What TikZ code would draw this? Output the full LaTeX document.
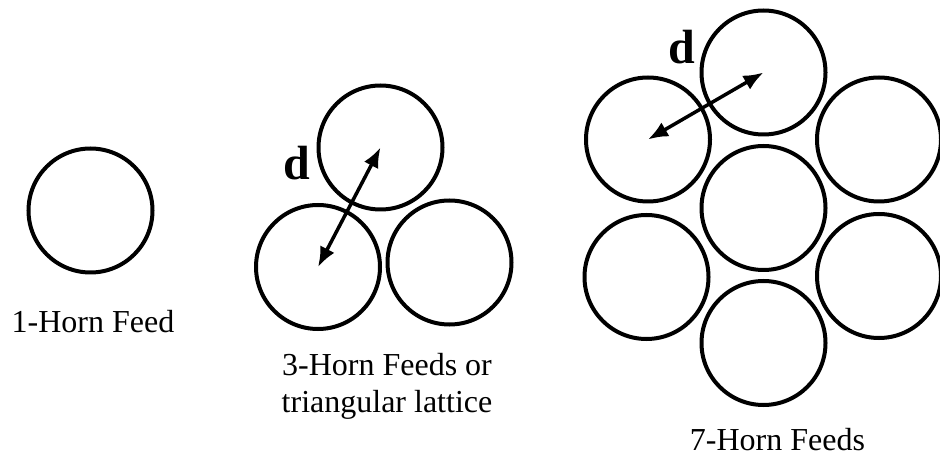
\documentclass[tikz,border=0pt]{standalone}
\usepackage{fontspec}
\setmainfont{Liberation Serif}
\usetikzlibrary{arrows.meta}
\begin{document}
\begin{tikzpicture}[x=1pt,y=-1pt,
  horn/.style={circle,draw=black,line width=4pt,minimum size=124pt,inner sep=0pt},
  lbl/.style={font=\fontsize{32}{37}\selectfont,anchor=base,inner sep=0pt},
  dlbl/.style={font=\fontsize{48}{48}\selectfont\bfseries,inner sep=0pt},
  dtip/.tip={Latex[length=20pt,width=16pt]},
  darrow/.style={line width=3.5pt,dtip-dtip}]
\useasboundingbox (0,0) rectangle (940,462);
% 1-horn
\node[horn] (h1) at (90.5,210.5) {};
\node[lbl] (l1) at (93,333) {1-Horn Feed};
% 3-horn
\node[horn] (t3) at (380.5,147.5) {};
\node[horn] (bl3) at (318,267) {};
\node[horn] (br3) at (449.5,262.5) {};
\draw[darrow] (bl3.center) -- (t3.center);
\node[dlbl] (d3) at (297,163.5) {d};
\node[lbl] (l3a) at (387,375) {3-Horn Feeds or};
\node[lbl] (l3b) at (387,412) {triangular lattice};
% 7-horn
\node[horn] (c7) at (763.5,208) {};
\node[horn] (t7) at (763.5,72.5) {};
\node[horn] (ul7) at (648,139.5) {};
\node[horn] (ur7) at (879,139.5) {};
\node[horn] (ll7) at (646.5,277) {};
\node[horn] (lr7) at (879,276) {};
\node[horn] (b7) at (763.5,343) {};
\draw[darrow] (ul7.center) -- (t7.center);
\node[dlbl] (d7) at (682,47) {d};
\node[lbl] (l7) at (777.5,450) {7-Horn Feeds};
\end{tikzpicture}
\end{document}
